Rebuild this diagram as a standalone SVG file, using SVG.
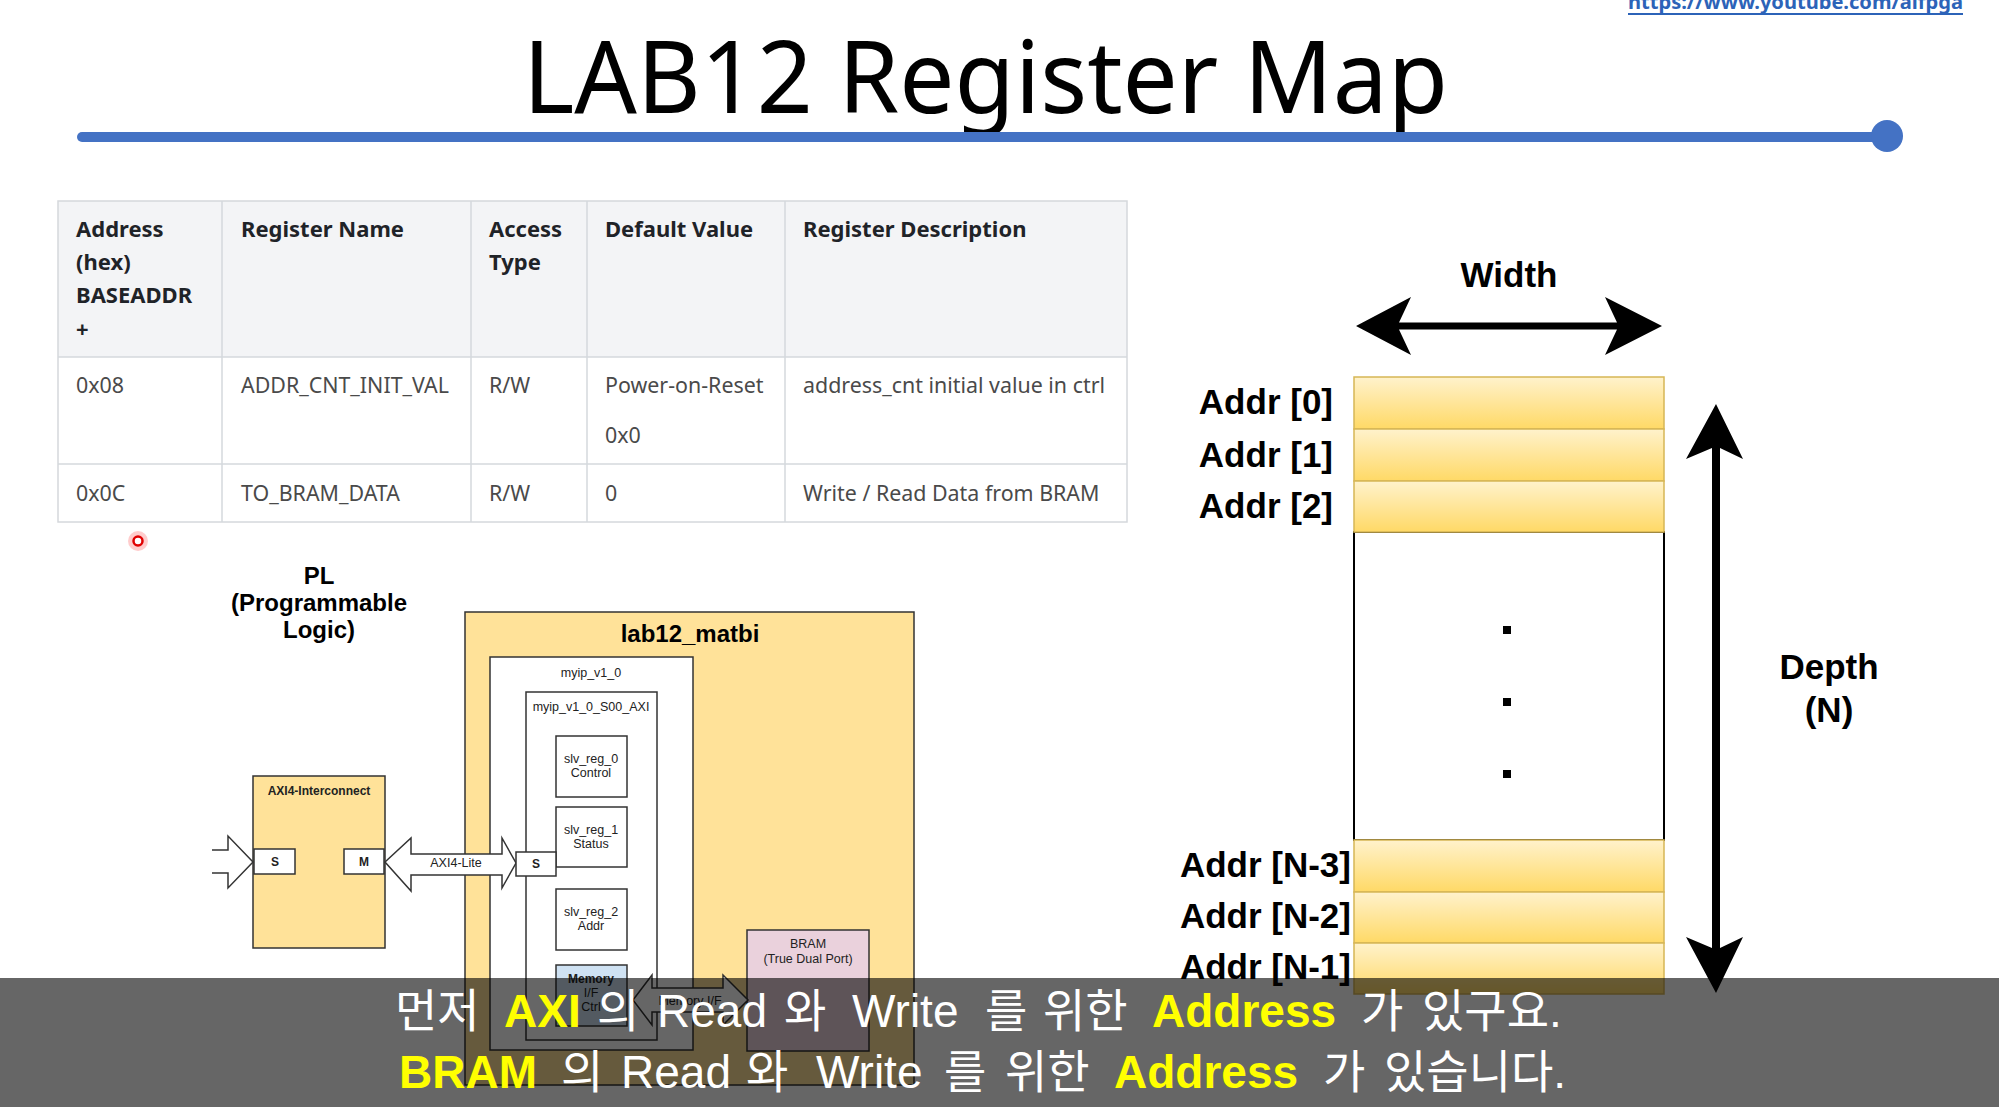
<svg xmlns="http://www.w3.org/2000/svg" width="1999" height="1115" viewBox="0 0 1999 1115">
<defs>
<style>
.tbl{font-family:"Noto Sans","Open Sans",sans-serif;font-size:21.4px}
.th{font-weight:bold;fill:#1f2328;font-size:22px}
.td{fill:#4a4a4a}
.grid{stroke:#d5d8dc;stroke-width:1.5;fill:none}
.box{stroke:#333;stroke-width:1.5}
.sm{font-family:"Liberation Sans",Arial,sans-serif;font-size:12.5px;fill:#222;text-anchor:middle}
.smb{font-family:"Liberation Sans",Arial,sans-serif;font-size:12px;font-weight:bold;fill:#222;text-anchor:middle}
.big{font-family:"Liberation Sans",Arial,sans-serif;font-size:35px;font-weight:bold;fill:#000}
.row{fill:url(#rowg);stroke:#d6b656;stroke-width:1.5}
.blk{fill:#fff;stroke:#333;stroke-width:1.5;stroke-linejoin:miter}
.sub{font-family:"Liberation Sans","Noto Sans CJK KR",sans-serif;font-size:46px;fill:#fff}
.hl{font-weight:bold;fill:#ffff00}
</style>
<linearGradient id="rowg" x1="0" y1="0" x2="0" y2="1">
<stop offset="0" stop-color="#fff2cc"/>
<stop offset="1" stop-color="#ffd966"/>
</linearGradient>
</defs>
<rect width="1999" height="1115" fill="#fff"/>

<g id="url">
<text x="1628" y="9" font-family="Noto Sans,sans-serif" font-size="20" font-weight="bold" fill="#2c63b8" textLength="335" lengthAdjust="spacingAndGlyphs">https://www.youtube.com/aifpga</text>
<line x1="1628" y1="14" x2="1963" y2="14" stroke="#2c63b8" stroke-width="2"/>
</g>

<g id="title">
<text x="523" y="113" font-family="Noto Sans,sans-serif" font-size="100" fill="#000" textLength="925" lengthAdjust="spacingAndGlyphs">LAB12 Register Map</text>
<line x1="82" y1="137" x2="1886" y2="137" stroke="#4472c4" stroke-width="10" stroke-linecap="round"/>
<circle cx="1887" cy="136" r="16" fill="#4472c4"/>
</g>

<g id="register-table" class="tbl">
<rect x="58" y="201" width="1069" height="156" fill="#f3f4f6"/>
<rect x="58" y="357" width="1069" height="165" fill="#fff"/>
<rect x="58" y="201" width="1069" height="321" class="grid" stroke-width="2"/>
<line x1="58" y1="357" x2="1127" y2="357" class="grid"/>
<line x1="58" y1="464" x2="1127" y2="464" class="grid"/>
<line x1="222" y1="201" x2="222" y2="522" class="grid"/>
<line x1="471" y1="201" x2="471" y2="522" class="grid"/>
<line x1="587" y1="201" x2="587" y2="522" class="grid"/>
<line x1="785" y1="201" x2="785" y2="522" class="grid"/>
<text class="th" x="76" y="237">Address</text>
<text class="th" x="76" y="270">(hex)</text>
<text class="th" x="76" y="303">BASEADDR</text>
<text class="th" x="76" y="337">+</text>
<text class="th" x="241" y="237">Register Name</text>
<text class="th" x="489" y="237">Access</text>
<text class="th" x="489" y="270">Type</text>
<text class="th" x="605" y="237">Default Value</text>
<text class="th" x="803" y="237">Register Description</text>
<text class="td" x="76" y="393">0x08</text>
<text class="td" x="241" y="393">ADDR_CNT_INIT_VAL</text>
<text class="td" x="489" y="393">R/W</text>
<text class="td" x="605" y="393">Power-on-Reset</text>
<text class="td" x="605" y="443">0x0</text>
<text class="td" x="803" y="393">address_cnt initial value in ctrl</text>
<text class="td" x="76" y="501">0x0C</text>
<text class="td" x="241" y="501">TO_BRAM_DATA</text>
<text class="td" x="489" y="501">R/W</text>
<text class="td" x="605" y="501">0</text>
<text class="td" x="803" y="501">Write / Read Data from BRAM</text>
</g>

<g id="pointer">
<circle cx="138" cy="541" r="10" fill="#ff0000" opacity="0.2"/>
<circle cx="138" cy="541" r="4.5" fill="#fff" stroke="#e00000" stroke-width="2.5"/>
</g>

<g id="pl-label" font-family="Liberation Sans,Arial,sans-serif" font-size="24" font-weight="bold" text-anchor="middle" fill="#000">
<text x="319" y="584">PL</text>
<text x="319" y="611">(Programmable</text>
<text x="319" y="638">Logic)</text>
</g>

<g id="axi4-interconnect">
<rect x="253" y="776" width="132" height="172" fill="#ffe299" class="box"/>
<text class="smb" x="319" y="795" fill="#4a3f26">AXI4-Interconnect</text>
<rect x="254" y="849" width="41" height="25" fill="#fff" class="box"/>
<text class="smb" x="275" y="866">S</text>
<rect x="344" y="849" width="40" height="25" fill="#fff" class="box"/>
<text class="smb" x="364" y="866">M</text>
</g>

<g id="lab12_matbi">
<rect x="465" y="612" width="449" height="473" fill="#ffe299" class="box"/>
<text x="690" y="642" font-family="Liberation Sans,Arial,sans-serif" font-size="24" font-weight="bold" text-anchor="middle" fill="#000">lab12_matbi</text>
</g>

<g id="myip_v1_0">
<rect x="490" y="657" width="203" height="393" fill="#fff" class="box"/>
<text class="sm" x="591" y="677">myip_v1_0</text>
</g>

<g id="myip_v1_0_S00_AXI">
<rect x="526" y="692" width="131" height="348" fill="#fff" class="box"/>
<text class="sm" x="591" y="711" font-size="12">myip_v1_0_S00_AXI</text>
</g>

<g id="slv_reg_0">
<rect x="556" y="736" width="71" height="61" fill="#fff" class="box"/>
<text class="sm" x="591" y="763">slv_reg_0</text>
<text class="sm" x="591" y="777">Control</text>
</g>
<g id="slv_reg_1">
<rect x="556" y="807" width="71" height="60" fill="#fff" class="box"/>
<text class="sm" x="591" y="834">slv_reg_1</text>
<text class="sm" x="591" y="848">Status</text>
</g>
<g id="slv_reg_2">
<rect x="556" y="889" width="71" height="61" fill="#fff" class="box"/>
<text class="sm" x="591" y="916">slv_reg_2</text>
<text class="sm" x="591" y="930">Addr</text>
</g>
<g id="memory-if-ctrl">
<rect x="556" y="965" width="71" height="61" fill="#cfe2f3" class="box"/>
<text class="smb" x="591" y="983">Memory</text>
<text class="sm" x="591" y="997">I/F</text>
<text class="sm" x="591" y="1011">Ctrl</text>
</g>
<g id="bram">
<rect x="747" y="930" width="122" height="121" fill="#ead1dc" class="box"/>
<text class="sm" x="808" y="948">BRAM</text>
<text class="sm" x="808" y="963" font-size="12">(True Dual Port)</text>
</g>

<g id="connectors">
<path class="blk" d="M212,850 H228 V836 L253,862 L228,888 V873 H212"/>
<path class="blk" d="M385,862 L411,838 V854 H502 V838 L516,863 L502,888 V875 H411 V891 Z"/>
<text class="sm" x="456" y="867" fill="#666" font-size="12">AXI4-Lite</text>
<path class="blk" d="M633,1000 L652,975 V988 H723 V975 L748,1000 L723,1025 V1012 H652 V1025 Z"/>
<text class="sm" x="690" y="1005" fill="#666" font-size="11">Memory I/F</text>
<path d="M1356,326 L1411,297 L1399,322.5 H1617 L1605,297 L1662,326 L1605,355 L1617,329.5 H1399 L1411,355 Z" fill="#000"/>
<path d="M1716,404 L1743,459 L1720,448 V948 L1743,937 L1716,993 L1686,937 L1712,948 V448 L1686,459 Z" fill="#000"/>
</g>

<g id="myip-s-port">
<rect x="516" y="852" width="40" height="24" fill="#fff" class="box"/>
<text class="smb" x="536" y="868">S</text>
</g>

<g id="memory-map">
<text class="big" x="1509" y="287" text-anchor="middle">Width</text>
<rect x="1354" y="532" width="310" height="308" fill="#fff" stroke="#000" stroke-width="2"/>
<rect class="row" x="1354" y="377" width="310" height="52"/>
<rect class="row" x="1354" y="429" width="310" height="52"/>
<rect class="row" x="1354" y="481" width="310" height="51"/>
<rect class="row" x="1354" y="840" width="310" height="52"/>
<rect class="row" x="1354" y="892" width="310" height="51"/>
<rect class="row" x="1354" y="943" width="310" height="51"/>
<rect x="1503" y="626" width="8" height="8" fill="#000"/>
<rect x="1503" y="698" width="8" height="8" fill="#000"/>
<rect x="1503" y="770" width="8" height="8" fill="#000"/>
<text class="big" x="1333" y="414" text-anchor="end">Addr [0]</text>
<text class="big" x="1333" y="467" text-anchor="end">Addr [1]</text>
<text class="big" x="1333" y="518" text-anchor="end">Addr [2]</text>
<text class="big" x="1351" y="877" text-anchor="end">Addr [N-3]</text>
<text class="big" x="1351" y="928" text-anchor="end">Addr [N-2]</text>
<text class="big" x="1351" y="979" text-anchor="end">Addr [N-1]</text>
<text class="big" x="1829" y="679" text-anchor="middle">Depth</text>
<text class="big" x="1829" y="722" text-anchor="middle">(N)</text>
</g>

<g id="subtitle">
<rect x="0" y="978" width="1999" height="129" fill="#000" opacity="0.6"/>
<text class="sub" y="1027"><tspan x="395">먼저</tspan><tspan class="hl" x="504">AXI</tspan><tspan x="597">의</tspan><tspan x="657">Read</tspan><tspan x="784">와</tspan><tspan x="852">Write</tspan><tspan x="985">를</tspan><tspan x="1043">위한</tspan><tspan class="hl" x="1152">Address</tspan><tspan x="1361">가</tspan><tspan x="1422">있구요.</tspan></text>
<text class="sub" y="1088"><tspan class="hl" x="399">BRAM</tspan><tspan x="561">의</tspan><tspan x="621">Read</tspan><tspan x="746">와</tspan><tspan x="816">Write</tspan><tspan x="944">를</tspan><tspan x="1005">위한</tspan><tspan class="hl" x="1114">Address</tspan><tspan x="1323">가</tspan><tspan x="1384">있습니다.</tspan></text>
</g>
</svg>
